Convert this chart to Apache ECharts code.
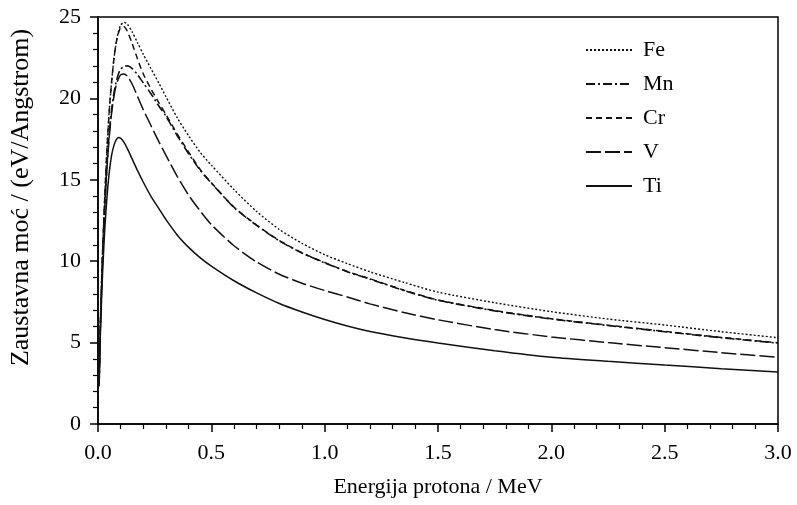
<!DOCTYPE html>
<html>
<head>
<meta charset="utf-8">
<script src="https://cdn.jsdelivr.net/npm/echarts@6/dist/echarts.min.js"></script>
<style>html,body{margin:0;padding:0;background:#fff}#c{width:797px;height:505px}</style>
</head>
<body>
<div id="c"></div>
<script>
const energy = [0.005,0.01,0.02,0.03,0.04,0.05,0.06,0.07,0.08,0.09,0.1,0.115,0.13,0.15,0.175,0.2,0.233,0.27,0.3,0.35,0.4,0.45,0.5,0.6,0.7,0.8,0.9,1.0,1.1,1.2,1.35,1.5,1.75,2.0,2.25,2.5,2.75,3.0];
const fe = [2.5,6.0,10.5,14.0,17.0,19.3,21.0,22.4,23.4,24.1,24.5,24.67,24.55,24.1,23.4,22.7,21.85,20.9,20.1,18.8,17.7,16.7,15.9,14.4,13.05,11.95,11.1,10.4,9.85,9.35,8.7,8.1,7.45,6.9,6.45,6.08,5.67,5.30];
const mn = [2.4,5.8,10.2,13.5,16.0,17.9,19.3,20.3,21.0,21.5,21.8,21.97,22.0,21.85,21.45,20.95,20.3,19.5,18.9,17.7,16.6,15.6,14.8,13.3,12.2,11.25,10.5,9.9,9.35,8.9,8.2,7.6,6.95,6.45,6.05,5.67,5.3,4.97];
const cr = [2.5,6.0,10.5,14.0,17.0,19.3,21.0,22.4,23.4,24.0,24.35,24.4,24.1,23.4,22.4,21.5,20.6,19.7,19.0,17.8,16.7,15.65,14.82,13.32,12.22,11.27,10.52,9.92,9.37,8.92,8.22,7.62,6.97,6.47,6.07,5.69,5.32,4.99];
const v = [2.4,5.7,10.0,13.3,15.8,17.7,19.1,20.1,20.8,21.2,21.45,21.5,21.35,20.9,20.1,19.3,18.35,17.3,16.5,15.2,14.05,13.1,12.25,10.95,9.95,9.2,8.65,8.2,7.8,7.38,6.85,6.4,5.8,5.35,5.0,4.69,4.38,4.10];
const ti = [2.3,5.3,9.2,12.0,14.0,15.5,16.5,17.1,17.45,17.6,17.55,17.3,16.9,16.3,15.55,14.85,14.0,13.2,12.55,11.6,10.85,10.22,9.7,8.8,8.05,7.4,6.88,6.42,6.02,5.68,5.3,4.98,4.5,4.1,3.85,3.62,3.4,3.19];
const names = ['Fe','Mn','Cr','V','Ti'];

const FONT = 'Liberation Serif';
function pairs(ys){ return energy.map((e,i)=>[e, ys[i]]); }
const styles = {
  Fe: {type:[2,2], width:1.4},
  Mn: {type:[9,3,2,3], width:1.6},
  Cr: {type:[6,4], width:1.5},
  V:  {type:[15,4], width:1.5},
  Ti: {type:'solid', width:1.5}
};
const data = {Fe:fe, Mn:mn, Cr:cr, V:v, Ti:ti};

const chart = echarts.init(document.getElementById('c'));
chart.setOption({
  animation:false,
  backgroundColor:'#fff',
  grid:{left:97, right:19, top:17, bottom:81, show:true, borderColor:'#000', borderWidth:1.5},
  legend:{
    orient:'vertical', left:580, top:34, itemWidth:46, itemHeight:2, itemGap:12,
    itemStyle:{opacity:0},
    data:names, textStyle:{fontFamily:FONT, fontSize:22, color:'#000', padding:[0,0,0,6]}
  },
  xAxis:{
    type:'value', min:0, max:3, interval:0.5,
    name:'Energija protona / MeV', nameLocation:'middle', nameGap:52,
    nameTextStyle:{fontFamily:FONT, fontSize:22, color:'#000'},
    axisLine:{lineStyle:{color:'#000', width:1.5}},
    axisTick:{show:true, length:8, lineStyle:{color:'#000', width:1.5}},
    minorTick:{show:true, splitNumber:5, length:5, lineStyle:{color:'#000', width:1.2}},
    splitLine:{show:false},
    axisLabel:{fontFamily:FONT, fontSize:22, color:'#000', margin:18, formatter:(x)=>x.toFixed(1)}
  },
  yAxis:{
    type:'value', min:0, max:25, interval:5,
    name:'Zaustavna moć / (eV/Angstrom)', nameLocation:'middle', nameGap:64,
    nameTextStyle:{fontFamily:FONT, fontSize:26, color:'#000', padding:[0,0,0,46]},
    axisLine:{lineStyle:{color:'#000', width:1.5}},
    axisTick:{show:true, length:8, lineStyle:{color:'#000', width:1.5}},
    minorTick:{show:true, splitNumber:5, length:5, lineStyle:{color:'#000', width:1.2}},
    splitLine:{show:false},
    axisLabel:{fontFamily:FONT, fontSize:22, color:'#000', margin:17}
  },
  series: names.map(n=>({
    name:n, type:'line', data:pairs(data[n]), showSymbol:false, symbol:'none', smooth:0.25,
    lineStyle:{color:'#111', width:styles[n].width, type:styles[n].type},
    itemStyle:{color:'#111'}
  }))
});
</script>
</body>
</html>
